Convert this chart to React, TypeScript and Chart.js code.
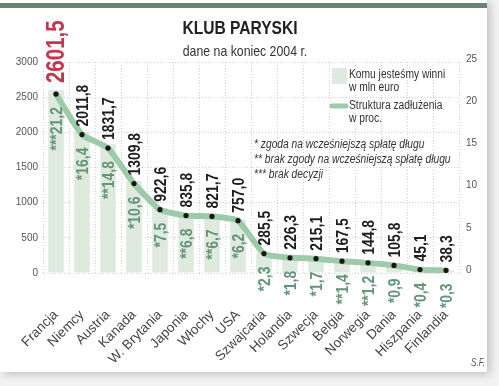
import { useEffect, useRef } from 'react';
import { Chart, registerables } from 'chart.js';

Chart.register(...registerables);

const categories = ['Francja', 'Niemcy', 'Austria', 'Kanada', 'W. Brytania', 'Japonia', 'Włochy', 'USA', 'Szwajcaria', 'Holandia', 'Szwecja', 'Belgia', 'Norwegia', 'Dania', 'Hiszpania', 'Finlandia'];
const debtMlnEuro = [2601.5, 2011.8, 1831.7, 1309.8, 922.6, 835.8, 821.7, 757.0, 285.5, 226.3, 215.1, 167.5, 144.8, 105.8, 45.1, 38.3];
const sharePct = [21.2, 16.4, 14.8, 10.6, 7.5, 6.8, 6.7, 6.2, 2.3, 1.8, 1.7, 1.4, 1.2, 0.9, 0.4, 0.3];
const shareMarks = ['***', '*', '**', '*', '*', '**', '**', '*', '*', '*', '*', '**', '**', '*', '*', '*'];
const leftAxis = { min: 0, max: 3000, step: 500 };
const rightAxis = { min: 0, max: 25, step: 5 };

const title = 'KLUB PARYSKI';
const subtitle = 'dane na koniec 2004 r.';
const legendBar = ['Komu jesteśmy winni', 'w mln euro'];
const legendLine = ['Struktura zadłużenia', 'w proc.'];
const footnotes = ['* zgoda na wcześniejszą spłatę długu', '** brak zgody na wcześniejszą spłatę długu', '*** brak decyzji'];
const credit = 'S.F.';

const FONT = "'Liberation Sans', Arial, sans-serif";
const SX = 0.82; // horizontal squeeze to imitate a condensed face
const BAR_COLOR = '#dfeadf';
const LINE_COLOR = '#9dcaa9';
const PCT_COLOR = '#64957a';
const fmt = (v: number) => v.toFixed(1).replace('.', ',');

function text(
  ctx: CanvasRenderingContext2D,
  s: string,
  x: number,
  y: number,
  font: string,
  color: string,
  align: CanvasTextAlign,
  rot = 0,
  sx = SX,
) {
  ctx.save();
  ctx.translate(x, y);
  if (rot) ctx.rotate(rot);
  ctx.scale(sx, 1);
  ctx.font = font;
  ctx.fillStyle = color;
  ctx.textAlign = align;
  ctx.textBaseline = 'middle';
  ctx.fillText(s, 0, 0);
  ctx.restore();
}

const decorPlugin = {
  id: 'decor',
  beforeDraw(chart: any) {
    const ctx = chart.ctx as CanvasRenderingContext2D;
    ctx.save();
    ctx.fillStyle = '#f3f3f3';
    ctx.fillRect(0, 0, chart.width, chart.height);
    ctx.shadowColor = 'rgba(0,0,0,0.22)';
    ctx.shadowBlur = 9;
    ctx.shadowOffsetX = 3;
    ctx.shadowOffsetY = 2;
    ctx.fillStyle = '#ffffff';
    ctx.fillRect(0, 0, 487, 372);
    ctx.restore();
    ctx.save();
    ctx.fillStyle = '#6b8574';
    ctx.fillRect(0, 3, 487, 5);
    ctx.restore();
  },
  afterDatasetsDraw(chart: any) {
    const ctx = chart.ctx as CanvasRenderingContext2D;
    const meta = chart.getDatasetMeta(0);
    meta.data.forEach((pt: any, i: number) => {
      const x = pt.x + 1;
      const y = pt.y;
      const first = i === 0;
      text(
        ctx,
        fmt(debtMlnEuro[i]),
        x,
        y - (first ? 11 : 8),
        first ? `bold 25px ${FONT}` : `bold 17px ${FONT}`,
        first ? '#c4384f' : '#1e1e1e',
        'left',
        -Math.PI / 2,
      );
      text(ctx, shareMarks[i] + fmt(sharePct[i]), x, y + 13, `bold 17px ${FONT}`, PCT_COLOR, 'right', -Math.PI / 2);
    });
  },
  afterDraw(chart: any) {
    const ctx = chart.ctx as CanvasRenderingContext2D;
    text(ctx, title, 240, 29, `bold 19px ${FONT}`, '#222', 'center');
    text(ctx, subtitle, 245, 52, `15px ${FONT}`, '#333', 'center');

    ctx.save();
    ctx.fillStyle = BAR_COLOR;
    ctx.fillRect(332, 68, 15, 16);
    ctx.strokeStyle = LINE_COLOR;
    ctx.lineWidth = 5;
    ctx.lineCap = 'round';
    ctx.beginPath();
    ctx.moveTo(332, 106);
    ctx.lineTo(346, 106);
    ctx.stroke();
    ctx.restore();

    const lf = `12.5px ${FONT}`;
    text(ctx, legendBar[0], 349, 75, lf, '#333', 'left');
    text(ctx, legendBar[1], 349, 88, lf, '#333', 'left');
    text(ctx, legendLine[0], 349, 106, lf, '#333', 'left');
    text(ctx, legendLine[1], 349, 119, lf, '#333', 'left');

    footnotes.forEach((t, i) => text(ctx, t, 254, 145 + i * 15, `italic 12.5px ${FONT}`, '#333', 'left'));
    text(ctx, credit, 471, 363, `italic 10px ${FONT}`, '#555', 'left');
  },
};

export default function App() {
  const ref = useRef<HTMLCanvasElement | null>(null);
  useEffect(() => {
    document.body.style.margin = '0';
    if (!ref.current) return;
    const chart = new Chart(ref.current, {
      type: 'bar',
      data: {
        labels: categories,
        datasets: [
          {
            type: 'line',
            label: legendLine.join(' '),
            data: sharePct,
            yAxisID: 'y1',
            borderColor: LINE_COLOR,
            borderWidth: 6,
            borderJoinStyle: 'round',
            borderCapStyle: 'round',
            tension: 0.15,
            pointRadius: 2.6,
            pointBackgroundColor: '#151515',
            pointBorderWidth: 0,
            order: 0,
          } as any,
          {
            type: 'bar',
            label: legendBar.join(' '),
            data: debtMlnEuro,
            yAxisID: 'y',
            backgroundColor: BAR_COLOR,
            barPercentage: 0.6,
            categoryPercentage: 1,
            order: 1,
          },
        ],
      },
      options: {
        animation: false,
        responsive: false,
        layout: { padding: { top: 62, left: 0, right: 0, bottom: 0 } },
        plugins: { legend: { display: false }, tooltip: { enabled: false }, title: { display: false } },
        scales: {
          x: {
            offset: true,
            grid: { display: true, color: '#d2d2d2', drawTicks: false, offset: true },
            border: { display: false, dash: [1, 2] },
            ticks: {
              autoSkip: false,
              minRotation: 45,
              maxRotation: 45,
              padding: 34,
              color: '#444',
              font: { family: FONT, size: 13.5 },
            },
            afterFit: (s: any) => {
              s.height = 113;
              s.paddingLeft = 0;
              s.paddingRight = 0;
            },
          },
          y: {
            position: 'left',
            min: leftAxis.min,
            max: leftAxis.max,
            grid: { color: '#d2d2d2', drawTicks: false },
            border: { display: false, dash: [1, 2] },
            ticks: {
              stepSize: leftAxis.step,
              padding: 5,
              color: '#555',
              font: { family: FONT, size: 10 },
              callback: (v: any) => String(v),
            },
            afterFit: (s: any) => {
              s.width = 43;
              s.paddingTop = 0;
              s.paddingBottom = 0;
            },
          },
          y1: {
            position: 'right',
            min: rightAxis.min,
            max: rightAxis.max,
            grid: { display: false, drawTicks: false },
            border: { display: false },
            ticks: {
              stepSize: rightAxis.step,
              padding: 7,
              labelOffset: -3,
              color: '#555',
              font: { family: FONT, size: 10 },
              callback: (v: any) => String(v),
            },
            afterFit: (s: any) => {
              s.width = 40;
              s.paddingTop = 0;
              s.paddingBottom = 0;
            },
          },
        },
      },
      plugins: [decorPlugin],
    });
    return () => chart.destroy();
  }, []);
  return (
    <div style={{ width: 499, height: 386 }}>
      <canvas ref={ref} width={499} height={386} style={{ display: 'block' }} />
    </div>
  );
}
